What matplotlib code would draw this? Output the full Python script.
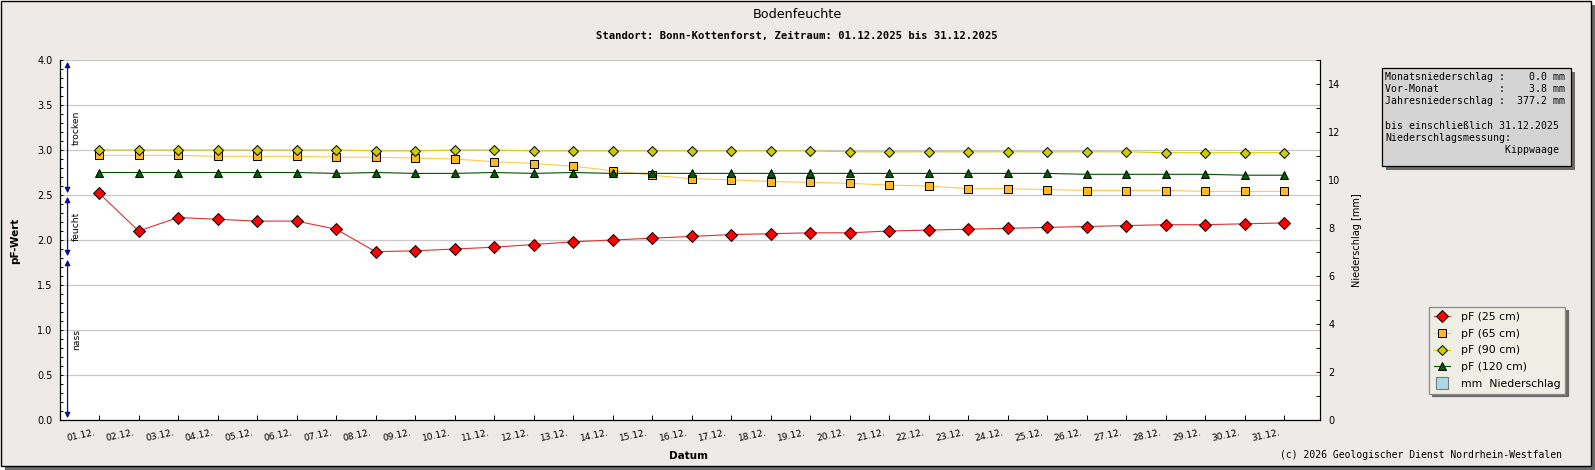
import numpy as np
import matplotlib
matplotlib.use("Agg")
import matplotlib.pyplot as plt
import matplotlib.transforms as mtransforms
from matplotlib.patches import Rectangle
from matplotlib.lines import Line2D
from matplotlib.ticker import MultipleLocator

# Tage im Dezember
days = list(range(1, 32))
day_labels = [f"{d:02d}.12." for d in days]

# pF-Werte je Tiefe
pf_25 = [2.52, 2.10, 2.25, 2.23, 2.21, 2.21, 2.12, 1.87, 1.88, 1.90,
         1.92, 1.95, 1.98, 2.00, 2.02, 2.04, 2.06, 2.07, 2.08, 2.08,
         2.10, 2.11, 2.12, 2.13, 2.14, 2.15, 2.16, 2.17, 2.17, 2.18, 2.19]
pf_65 = [2.94, 2.94, 2.94, 2.93, 2.93, 2.93, 2.92, 2.92, 2.91, 2.90,
         2.87, 2.85, 2.82, 2.77, 2.72, 2.68, 2.67, 2.65, 2.64, 2.63,
         2.61, 2.60, 2.57, 2.57, 2.56, 2.55, 2.55, 2.55, 2.54, 2.54, 2.54]
pf_90 = [3.00, 3.00, 3.00, 3.00, 3.00, 3.00, 3.00, 2.99, 2.99, 3.00,
         3.00, 2.99, 2.99, 2.99, 2.99, 2.99, 2.99, 2.99, 2.99, 2.98,
         2.98, 2.98, 2.98, 2.98, 2.98, 2.98, 2.98, 2.97, 2.97, 2.97, 2.97]
pf_120 = [2.75, 2.75, 2.75, 2.75, 2.75, 2.75, 2.74, 2.75, 2.74, 2.74,
          2.75, 2.74, 2.75, 2.74, 2.74, 2.74, 2.74, 2.74, 2.74, 2.74,
          2.74, 2.74, 2.74, 2.74, 2.74, 2.73, 2.73, 2.73, 2.73, 2.72, 2.72]
# Niederschlag [mm] (Monat ohne Niederschlag)
niederschlag = [0.0] * 31

# Feuchtebereiche (Grenzen in pF)
zonen = [("nass", 0.0, 1.8), ("feucht", 1.8, 2.5), ("trocken", 2.5, 4.0)]

info_lines = [
    "Monatsniederschlag :    0.0 mm",
    "Vor-Monat          :    3.8 mm",
    "Jahresniederschlag :  377.2 mm",
    "",
    "bis einschließlich 31.12.2025",
    "Niederschlagsmessung:",
    "                    Kippwaage",
]

W, H = 1595, 470
BG = "#EDEAE8"
fig = plt.figure(figsize=(W / 100, H / 100), dpi=100, facecolor="white")
# Pixel-Koordinaten von oben links
px = mtransforms.Affine2D().scale(1 / W, -1 / H).translate(0, 1) + fig.transFigure

# Rahmen mit Schatten
fig.patches.append(Rectangle((5, 5), 1590, 465, transform=px, facecolor="#6B6B6B",
                             edgecolor="none", zorder=-10))
fig.patches.append(Rectangle((0.5, 0.5), 1590, 465, transform=px, facecolor=BG,
                             edgecolor="black", lw=1, zorder=-9))

ax = fig.add_axes([60 / W, 1 - 420 / H, 1260 / W, 360 / H])
ax.set_facecolor("white")
ax.set_xlim(0.01, 31.91)
ax.set_ylim(0, 4)

ax.plot(days, pf_25, color="#E03030", lw=0.8, marker="D", ms=6.0,
        mfc="#FF0000", mec="black", mew=0.7, zorder=5, label="pF (25 cm)")
ax.plot(days, pf_65, color="#FFC850", lw=0.8, marker="s", ms=5.6,
        mfc="#FBB829", mec="black", mew=0.7, zorder=4, label="pF (65 cm)")
ax.plot(days, pf_90, color="#D8D000", lw=0.8, marker="D", ms=5.0,
        mfc="#CCCC00", mec="black", mew=0.7, zorder=4, label="pF (90 cm)")
ax.plot(days, pf_120, color="#005000", lw=0.8, marker="^", ms=6.2,
        mfc="#006000", mec="black", mew=0.7, zorder=4, label="pF (120 cm)")

ax.yaxis.set_major_locator(MultipleLocator(0.5))
ax.yaxis.set_minor_locator(MultipleLocator(0.1))
ax.yaxis.set_major_formatter(matplotlib.ticker.FormatStrFormatter("%.1f"))
ax.grid(axis="y", which="major", color="#C8C8C8", lw=0.9, zorder=0)
ax.set_axisbelow(True)
ax.tick_params(axis="y", which="both", direction="in", length=2.5, width=0.7,
               pad=5.5, labelsize=7, colors="black")
ax.set_xticks(days)
ax.set_xticklabels([])
ax.tick_params(axis="x", direction="in", length=3.5, width=0.7)
for side in ("top", "right"):
    ax.spines[side].set_visible(False)
ax.spines["left"].set_linewidth(0.9)
ax.spines["bottom"].set_linewidth(0.9)

# Datumsbeschriftung schraeg
lbl_tr = ax.get_xaxis_transform() + mtransforms.ScaledTranslation(-0.05, -0.08, fig.dpi_scale_trans)
for d, lab in zip(days, day_labels):
    ax.text(d, 0, lab, transform=lbl_tr, rotation=12, rotation_mode="anchor",
            ha="right", va="top", fontsize=6.6)

# Feuchtebereiche mit Doppelpfeilen
ytr = ax.get_yaxis_transform()
for name, lo, hi in zonen:
    ax.annotate("", xy=(0.006, lo + 0.02), xytext=(0.006, hi - 0.02),
                xycoords=ytr, textcoords=ytr,
                arrowprops=dict(arrowstyle="<|-|>", color="#10108A", lw=0.9,
                                mutation_scale=8, shrinkA=0, shrinkB=0))
    ax.text(0.0095, (lo + hi) / 2, name, transform=ytr, rotation=90,
            ha="left", va="center", fontsize=6.6)

# Niederschlag auf rechter Achse
ax2 = ax.twinx()
ax2.bar(days, niederschlag, width=0.6, color="#ADD8E6", edgecolor="none", zorder=1)
ax2.set_ylim(0, 15)
ax2.yaxis.set_major_locator(MultipleLocator(2))
ax2.yaxis.set_minor_locator(MultipleLocator(1))
ax2.tick_params(axis="y", which="both", direction="in", length=3, width=0.7,
                pad=6, labelsize=7)
for side in ("top", "left", "bottom"):
    ax2.spines[side].set_visible(False)
ax2.spines["right"].set_linewidth(0.9)
ax2.set_ylabel("Niederschlag [mm]", fontsize=7, labelpad=8)

# Titel und Achsentitel
fig.text(797, 15, "Bodenfeuchte", transform=px, ha="center", va="center", fontsize=9.2)
fig.text(797, 36, "Standort: Bonn-Kottenforst, Zeitraum: 01.12.2025 bis 31.12.2025",
         transform=px, ha="center", va="center", fontsize=7.6,
         family="DejaVu Sans Mono", weight="bold")
fig.text(15, 241, "pF-Wert", transform=px, rotation=90, ha="center", va="center",
         fontsize=7.5, weight="bold")
fig.text(688, 456, "Datum", transform=px, ha="center", va="center", fontsize=7.5,
         weight="bold")
fig.text(1562, 455, "(c) 2026 Geologischer Dienst Nordrhein-Westfalen", transform=px,
         ha="right", va="center", fontsize=7, family="DejaVu Sans Mono")

# Infobox Niederschlag
fig.patches.append(Rectangle((1386, 72), 189, 98, transform=px, facecolor="#6B6B6B",
                             edgecolor="none", zorder=1))
fig.patches.append(Rectangle((1382, 68), 189, 98, transform=px, facecolor="#D4D4D4",
                             edgecolor="black", lw=0.9, zorder=2))
fig.text(1385, 72, "\n".join(info_lines), transform=px, ha="left", va="top",
         fontsize=7.1, family="DejaVu Sans Mono", linespacing=1.28, zorder=3)

# Legende
handles = ax.get_lines()[:4]
handles = list(handles) + [Line2D([], [], ls="none", marker="s", ms=8,
                                  mfc="#ADD8E6", mec="#7A7A7A", mew=0.8)]
labels = ["pF (25 cm)", "pF (65 cm)", "pF (90 cm)", "pF (120 cm)", "mm  Niederschlag"]
leg = fig.legend(handles, labels, loc="upper left", bbox_to_anchor=(1429, 307),
                 bbox_transform=px, fontsize=7.8, frameon=True, fancybox=False,
                 borderpad=0.45, labelspacing=0.62, handlelength=1.5,
                 handletextpad=1.0, borderaxespad=0,
                 shadow={"facecolor": "#6B6B6B", "edgecolor": "#6B6B6B", "alpha": 1})
leg.get_frame().set_facecolor("#EEEEE4")
leg.get_frame().set_edgecolor("#8A8A8A")
leg.get_frame().set_linewidth(0.9)

fig.savefig("out.png", dpi=100, facecolor=fig.get_facecolor())
